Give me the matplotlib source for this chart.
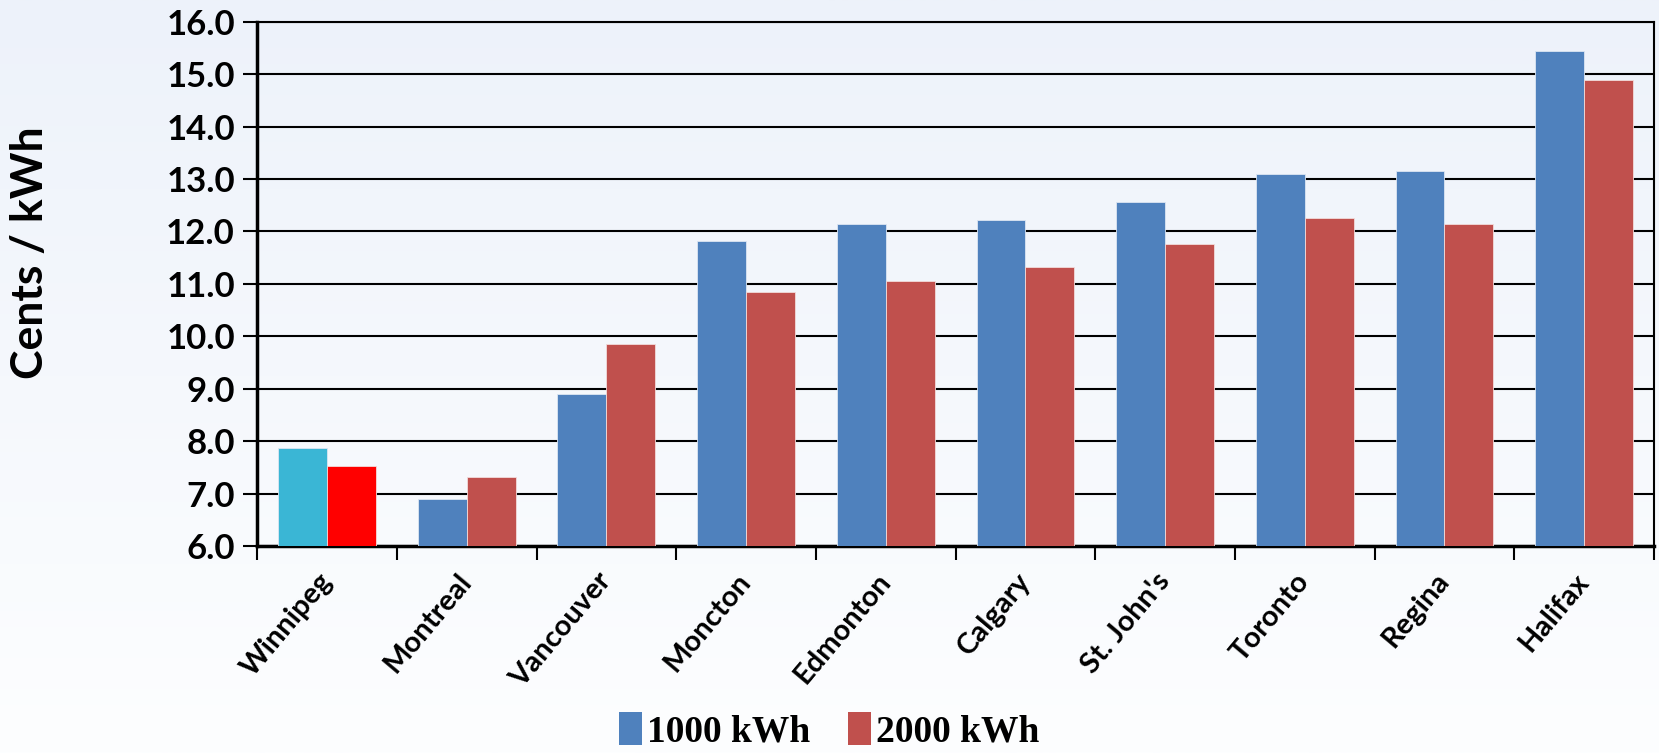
import numpy as np
import matplotlib.pyplot as plt
from matplotlib.colors import LinearSegmentedColormap
from matplotlib.patches import Patch
from matplotlib.ticker import FixedLocator, FormatStrFormatter

# residential electricity prices, cents per kWh
cities = ["Winnipeg", "Montreal", "Vancouver", "Moncton", "Edmonton",
          "Calgary", "St. John's", "Toronto", "Regina", "Halifax"]
kwh_1000 = [7.87, 6.89, 8.90, 11.81, 12.14, 12.21, 12.57, 13.09, 13.16, 15.45]
kwh_2000 = [7.53, 7.32, 9.86, 10.85, 11.05, 11.33, 11.77, 12.26, 12.14, 14.89]
series_names = ["1000 kWh", "2000 kWh"]

blue = "#4F81BD"
red = "#C0504D"
# Winnipeg gets highlighted colours
blue_cols = ["#3AB6D5"] + [blue] * (len(cities) - 1)
red_cols = ["#FF0000"] + [red] * (len(cities) - 1)

fig = plt.figure(figsize=(16.59, 7.53), dpi=100)

# soft vertical gradient behind everything
bg = fig.add_axes([0, 0, 1, 1], zorder=-10)
grad = np.linspace(0, 1, 256).reshape(-1, 1)
cmap = LinearSegmentedColormap.from_list("bg", ["#EDF2FA", "#FDFEFF"])
bg.imshow(grad, aspect="auto", cmap=cmap, extent=[0, 1, 0, 1])
bg.axis("off")

ax = fig.add_axes([0.155, 0.275, 0.842, 0.696])
ax.patch.set_alpha(0)

x = np.arange(len(cities))
w = 0.35
ax.bar(x - w / 2, kwh_1000, w, color=blue_cols, edgecolor="#DCE6F2",
       linewidth=0.6, zorder=3)
ax.bar(x + w / 2, kwh_2000, w, color=red_cols, edgecolor="#F2DCDB",
       linewidth=0.6, zorder=3)

ax.set_xlim(-0.5, len(cities) - 0.5)
ax.set_ylim(6.0, 16.0)
ax.set_yticks(np.arange(6, 16.5, 1.0))
ax.yaxis.set_major_formatter(FormatStrFormatter("%.1f"))
ax.grid(axis="y", color="black", linewidth=1.5, zorder=0)
ax.set_axisbelow(True)

for side in ["left", "bottom"]:
    ax.spines[side].set_linewidth(2.5)
for side in ["right", "top"]:
    ax.spines[side].set_linewidth(1.5)

ax.tick_params(axis="y", length=10, width=1.5, labelsize=25, pad=6)
for lab in ax.get_yticklabels():
    lab.set_fontweight("bold")
    lab.set_family("Lato")

# category labels at centres, tick marks at the boundaries
ax.set_xticks(x)
ax.set_xticklabels(cities, rotation=50, ha="right", va="center",
                   rotation_mode="anchor", fontsize=21, fontweight="bold",
                   family="Lato")
ax.tick_params(axis="x", which="major", length=0, pad=22)
ax.xaxis.set_minor_locator(FixedLocator(np.arange(-0.5, len(cities), 1.0)))
ax.tick_params(axis="x", which="minor", length=10, width=1.5)

ax.set_ylabel("Cents / kWh", fontsize=32, fontweight="bold", family="Lato")
ax.yaxis.set_label_coords(-0.148, 0.56)

handles = [Patch(facecolor=blue, edgecolor="none"),
           Patch(facecolor=red, edgecolor="none")]
fig.legend(handles, series_names, loc="center", bbox_to_anchor=(0.5, 0.03),
           ncol=2, frameon=False, handlelength=0.6, handleheight=1.0,
           handletextpad=0.15, columnspacing=1.0,
           prop={"family": "Liberation Serif", "weight": "bold", "size": 27})

fig.savefig("out.png", dpi=100)
